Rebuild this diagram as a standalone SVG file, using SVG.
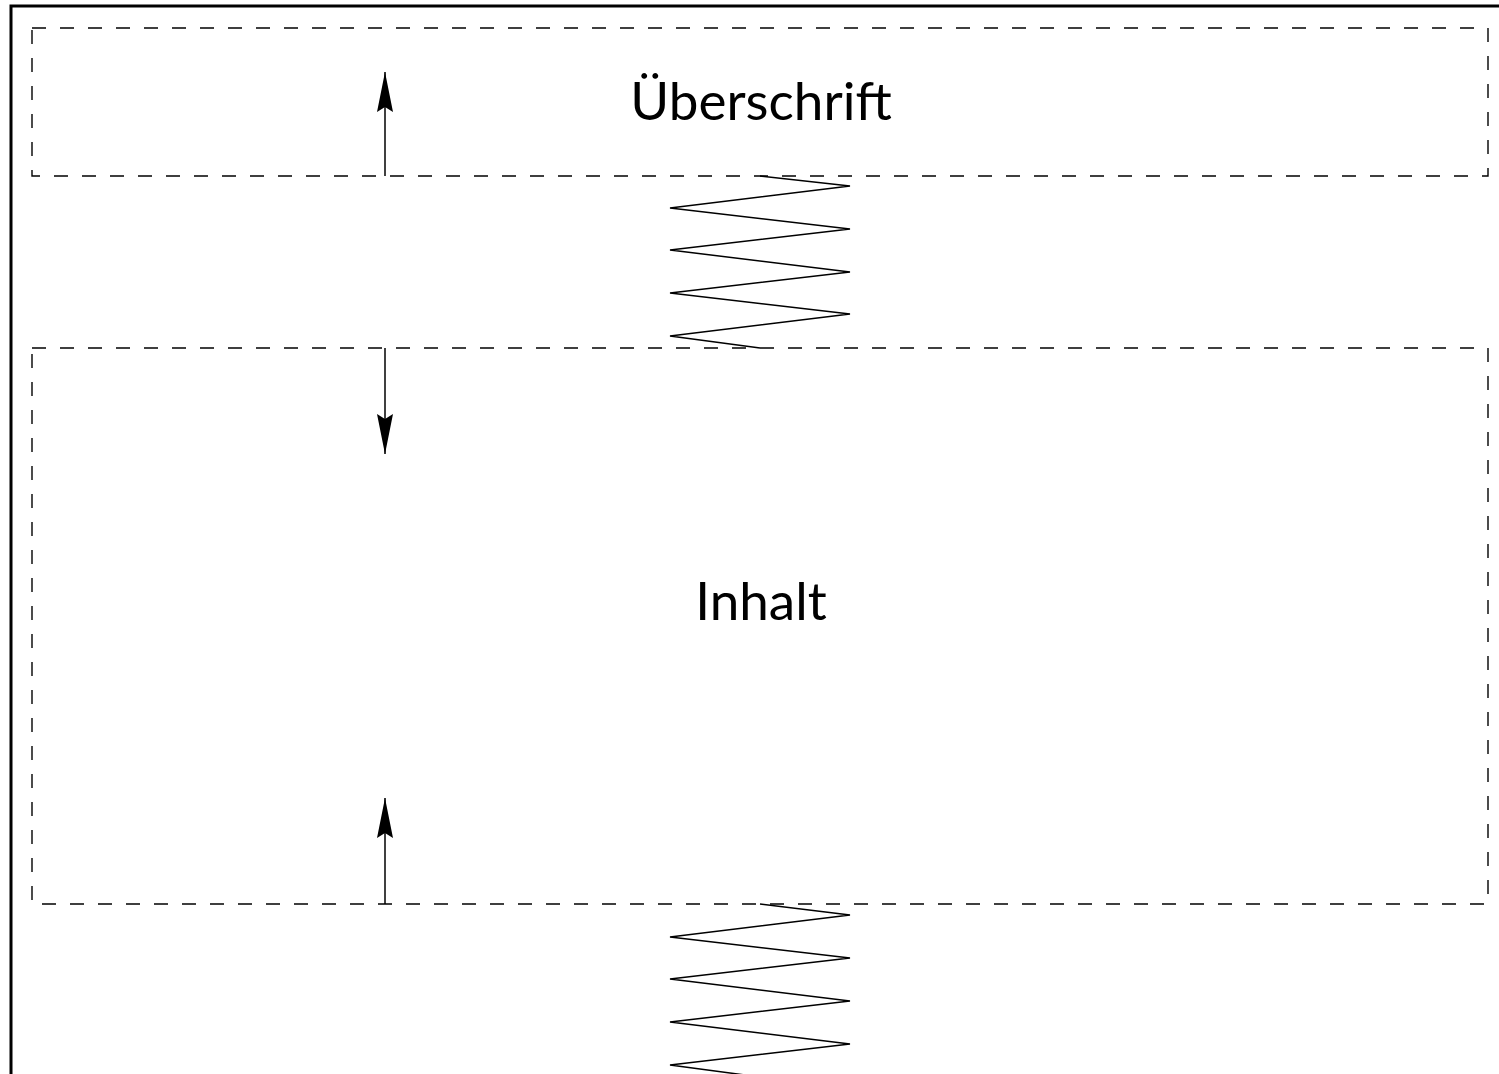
<svg xmlns="http://www.w3.org/2000/svg" width="1499" height="1074" viewBox="0 0 1499 1074">
<style>
.frame{fill:none;stroke:#000;stroke-width:3}
.box{fill:none;stroke:#000;stroke-width:1.4;stroke-dasharray:14 14}
.line{fill:none;stroke:#000;stroke-width:1.5}
.lbl{font-family:Lato,"Liberation Sans",sans-serif;font-size:53px;fill:#000;text-anchor:middle}
</style>
<defs>
<marker id="ah" markerWidth="42" markerHeight="18" refX="40" refY="9" orient="auto" markerUnits="userSpaceOnUse" viewBox="0 0 42 18" overflow="visible">
<path d="M40,9 L0,1 L5,9 L0,17 Z" fill="#000"/>
</marker>
</defs>
<rect class="frame" x="11" y="6" width="1500" height="1080"/>
<g id="ueberschrift">
<rect class="box" x="32" y="28" width="1456" height="148"/>
<text class="lbl" x="761" y="120">Überschrift</text>
</g>
<g id="inhalt">
<rect class="box" x="32" y="348" width="1456" height="556"/>
<text class="lbl" x="761" y="620">Inhalt</text>
</g>
<g id="connectors">
<path class="line" d="M385,176 L385,72" marker-end="url(#ah)"/>
<path class="line" d="M385,348 L385,454" marker-end="url(#ah)"/>
<path class="line" d="M385,904 L385,798" marker-end="url(#ah)"/>
<path class="line" d="M760,176 L850,186 L670,208 L850,229 L670,250 L850,272 L670,293 L850,314 L670,336 L760,348"/>
<path class="line" d="M760,904 L850,915 L670,937 L850,958 L670,979 L850,1001 L670,1022 L850,1044 L670,1065 L760,1077"/>
</g>
</svg>
